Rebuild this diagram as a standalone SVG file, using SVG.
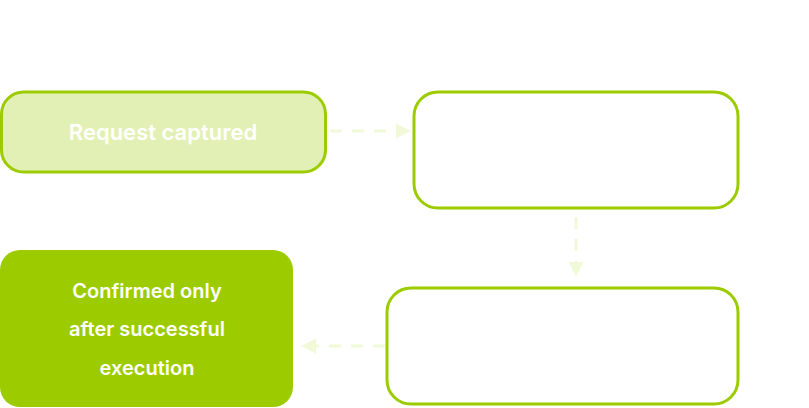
<svg xmlns="http://www.w3.org/2000/svg" width="809" height="408" viewBox="0 0 809 408">
<style>
.t{font-family:Inter,"Open Sans","Liberation Sans",sans-serif;font-weight:600;fill:#fff;text-anchor:middle}
.c{stroke:#f2f9d9;stroke-width:3;stroke-dasharray:12 10;fill:none}
</style>
<defs><marker id="a" markerWidth="5" markerHeight="5" refX="4" refY="2.5" orient="auto" markerUnits="strokeWidth"><path d="M0,0L5,2.5L0,5z" fill="#f2f9d9"/></marker></defs>
<rect width="809" height="408" fill="#fff"/>
<g id="connectors">
<path class="c" d="M330,131H408" marker-end="url(#a)"/>
<path class="c" d="M576,217V274" marker-end="url(#a)"/>
<path class="c" d="M385,346H304" marker-end="url(#a)"/>
</g>
<g id="n1"><rect x="1.5" y="92" width="324" height="80" rx="22" fill="#e2f0b5" stroke="#9ccc00" stroke-width="3"/>
<text class="t" x="163" y="140" font-size="22">Request captured</text></g>
<g id="n2"><rect x="414" y="92" width="324" height="116" rx="24" fill="#fff" stroke="#9ccc00" stroke-width="3"/></g>
<g id="n3"><rect x="387" y="288" width="351" height="116" rx="24" fill="#fff" stroke="#9ccc00" stroke-width="3"/></g>
<g id="n4"><rect x="0" y="250" width="293" height="157" rx="20" fill="#9ccc00"/>
<text class="t" x="147" y="298" font-size="20">Confirmed only</text>
<text class="t" x="147" y="336" font-size="20">after successful</text>
<text class="t" x="147" y="375" font-size="20">execution</text></g>
</svg>
